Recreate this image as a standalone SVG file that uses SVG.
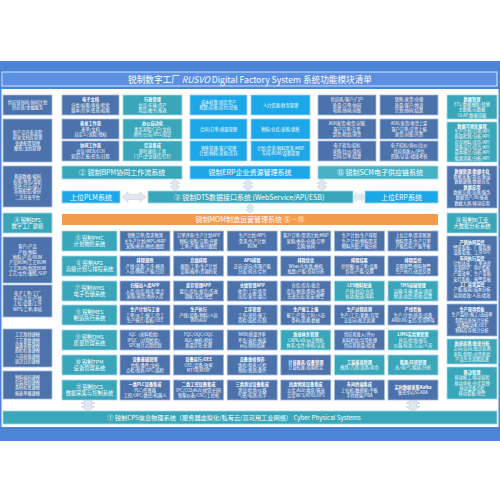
<svg xmlns="http://www.w3.org/2000/svg" width="500" height="500" viewBox="0 0 500 500">
<style>
text{font-family:"Noto Sans CJK SC","Noto Sans",sans-serif;fill:#fff;text-anchor:middle}
.f{font-size:4.2px}
.b{font-weight:bold}
.m{font-size:5.3px}
.bar{font-size:7px}
.s{fill:#4c72ab;stroke:#a3bbdf;stroke-width:0.8}
.t{fill:#3aa6ba;stroke:#a6dae3;stroke-width:0.8}
.t2{fill:#47b1c3;stroke:#a6dae3;stroke-width:0.8}
.c{fill:#1ea7e8;stroke:#93d4f3;stroke-width:0.8}
.o{fill:#f39a4d}
.ar{fill:#dfe7f0;stroke:#c3cfdd;stroke-width:0.6}
</style>
<defs>
<path id="va" d="M0,-6 L5,-1.5 L2.5,-1.5 L2.5,1.5 L5,1.5 L0,6 L-5,1.5 L-2.5,1.5 L-2.5,-1.5 L-5,-1.5 Z"/>
<path id="ha" d="M-12,0 L-6,-5 L-6,-2.5 L6,-2.5 L6,-5 L12,0 L6,5 L6,2.5 L-6,2.5 L-6,5 Z"/>
</defs>
<rect x="0" y="0" width="500" height="500" fill="#fff"/>
<rect x="0" y="61" width="500" height="380" fill="#4c84d7"/>
<rect x="1.5" y="89" width="497" height="338" fill="#fff"/>
<g id="title">
<rect x="2" y="72" width="495" height="14" fill="#5b8fe2" stroke="#d6e4fa" stroke-width="1"/>
<text x="250" y="82.5" style="font-size:9px" textLength="244" lengthAdjust="spacingAndGlyphs">锐制数字工厂 <tspan font-style="italic">RUSVO</tspan> Digital Factory System  系统功能模块清单</text>
</g>

<g id="connectors">
<use href="#va" class="ar" transform="translate(175,185)"/>
<use href="#va" class="ar" transform="translate(248,185)"/>
<use href="#va" class="ar" transform="translate(322,185)"/>
<use href="#ha" class="ar" transform="translate(134,197)"/>
<use href="#ha" class="ar" transform="translate(359,197) scale(0.45,0.9)"/>
<use href="#va" class="ar" transform="translate(250,208.5) scale(0.8)"/>
<use href="#va" class="ar" transform="translate(88,405) scale(1.4,1)"/>
<use href="#va" class="ar" transform="translate(413,405) scale(1.4,1)"/>
</g>

<!-- left column -->
<g id="L1"><rect class="s" x="3" y="95" width="49" height="20"/><text class="f"><tspan x="27.5" y="103.95">供应链协同/协同计划</tspan><tspan x="27.5" y="109.25">供应链/金融服务</tspan></text></g>
<g id="L2"><rect class="s" x="3" y="119" width="49" height="43"/><text class="f"><tspan x="27.5" y="134.15">新产品开发流程</tspan><tspan x="27.5" y="139.45">研发文档库管理</tspan><tspan x="27.5" y="144.75">变更配置管理</tspan><tspan x="27.5" y="150.05">图纸/文档管理</tspan></text></g>
<g id="L3"><rect class="s" x="3" y="166" width="49" height="41"/><text class="f"><tspan x="27.5" y="177.5">基础数据/编码</tspan><tspan x="27.5" y="182.8">权限/角色/组织</tspan><tspan x="27.5" y="188.1">消息/日志/接口</tspan><tspan x="27.5" y="193.4">系统配置/备份</tspan><tspan x="27.5" y="198.7">二次开发平台</tspan></text></g>
<g id="L4"><rect class="t" x="3" y="213" width="49" height="20"/><text class="m"><tspan x="27.5" y="221.65">④ 锐制DFS</tspan><tspan x="27.5" y="228.15">数字工厂建模</tspan></text></g>
<g id="L5"><rect class="s" x="3" y="237" width="49" height="46"/><text class="f"><tspan x="27.5" y="248.35">客户/产品</tspan><tspan x="27.5" y="253.65">产线/物料</tspan><tspan x="27.5" y="258.95">物料/产品/BOM</tspan><tspan x="27.5" y="264.25">产品BOM/工艺BOM</tspan><tspan x="27.5" y="269.55">工艺BOM/制造BOM</tspan><tspan x="27.5" y="274.85">工艺/文件/图纸/SOP</tspan></text></g>
<g id="L6"><rect class="s" x="3" y="285" width="49" height="32"/><text class="f"><tspan x="27.5" y="294.65">电子工单/工厂</tspan><tspan x="27.5" y="299.95">车间/工位/产线</tspan><tspan x="27.5" y="305.25">工位/设备/工序</tspan><tspan x="27.5" y="310.55">WPS/工单/审核</tspan></text></g>
<g id="L7"><rect class="s" x="3" y="329" width="49" height="38"/><text class="f"><tspan x="27.5" y="336.35">工艺路线建模</tspan><tspan x="27.5" y="341.65">工艺参数建模</tspan><tspan x="27.5" y="346.95">设备参数建模</tspan><tspan x="27.5" y="352.25">质检标准建模</tspan><tspan x="27.5" y="357.55">人员技能建模</tspan><tspan x="27.5" y="362.85">班次日历建模</tspan></text></g>
<g id="L8"><rect class="s" x="3" y="371" width="49" height="28"/><text class="f"><tspan x="27.5" y="378.65">物料编码建模</tspan><tspan x="27.5" y="383.95">包装规则建模</tspan><tspan x="27.5" y="389.25">条码标签建模</tspan><tspan x="27.5" y="394.55">报表单据建模</tspan></text></g>

<!-- BPM -->
<g id="B1"><rect class="s" x="62" y="95" width="57" height="20"/><text class="f"><tspan class="b" x="90.5" y="101.3">电子文档</tspan><tspan x="90.5" y="106.6">分类/权限/审批/检索</tspan><tspan x="90.5" y="111.9">版本/共享/签章/权限</tspan></text></g>
<g id="B2"><rect class="s" x="62" y="119" width="57" height="20"/><text class="f"><tspan class="b" x="90.5" y="125.3">表单工作流</tspan><tspan x="90.5" y="130.6">表单/文档</tspan><tspan x="90.5" y="135.9">自定义/流程/授权</tspan></text></g>
<g id="B3"><rect class="s" x="62" y="141" width="57" height="20"/><text class="f"><tspan class="b" x="90.5" y="147.3">协同工作流</tspan><tspan x="90.5" y="152.6">会议/WEB/ECN</tspan><tspan x="90.5" y="157.9">知识/汇报/任务/日程</tspan></text></g>
<g id="C1"><rect class="t" x="123" y="95" width="59" height="20"/><text class="f"><tspan class="b" x="152.5" y="101.3">行政管理</tspan><tspan x="152.5" y="106.6">会议/车辆/资产</tspan><tspan x="152.5" y="111.9">用品/图书/报表</tspan></text></g>
<g id="C2"><rect class="t" x="123" y="119" width="59" height="20"/><text class="f"><tspan class="b" x="152.5" y="125.3">办公自动化</tspan><tspan x="152.5" y="130.6">事务流程/门户/文档</tspan><tspan x="152.5" y="135.9">邮件/公告/RSS/知识</tspan></text></g>
<g id="C3"><rect class="t" x="123" y="141" width="59" height="20"/><text class="f"><tspan class="b" x="152.5" y="147.3">信息集成</tspan><tspan x="152.5" y="152.6">即时通讯/工具</tspan><tspan x="152.5" y="157.9">门户/企业微信/钉钉</tspan></text></g>
<g id="BPM"><rect class="t" x="62" y="166" width="120" height="13"/><text class="bar" x="122" y="175">② 锐制BPM协同工作流系统</text></g>

<!-- ERP -->
<g id="E1"><rect class="c" x="190" y="95" width="57" height="20"/><text class="f"><tspan x="218.5" y="103.95">成本核算/固定资产</tspan><tspan x="218.5" y="109.25">预算/应收/应付/总账</tspan></text></g>
<g id="E2"><rect class="c" x="190" y="119" width="57" height="20"/><text class="f"><tspan x="218.5" y="130.6">合同/订单/质量管理</tspan></text></g>
<g id="E3"><rect class="c" x="190" y="141" width="57" height="20"/><text class="f"><tspan x="218.5" y="149.95">销售管理/客户管理</tspan><tspan x="218.5" y="155.25">计划/物料/采购/库存</tspan></text></g>
<g id="E4"><rect class="c" x="251" y="95" width="59" height="20"/><text class="f"><tspan x="280.5" y="106.6">人力资源/财务管理</tspan></text></g>
<g id="E5"><rect class="c" x="251" y="119" width="59" height="20"/><text class="f"><tspan x="280.5" y="130.6">物料/仓库/采购/销售</tspan></text></g>
<g id="E6"><rect class="c" x="251" y="141" width="59" height="20"/><text class="f"><tspan x="280.5" y="149.95">计划/需求/物料需求/MRP</tspan><tspan x="280.5" y="155.25">车间/BOM/设备管理</tspan></text></g>
<g id="ERP"><rect class="c" x="190" y="166" width="120" height="13"/><text class="bar" x="250" y="175">锐制ERP企业资源管理系统</text></g>

<!-- SCM -->
<g id="S1"><rect class="s" x="318" y="95" width="58" height="20"/><text class="f"><tspan x="347" y="101.3">供应商/客户/门户</tspan><tspan x="347" y="106.6">质量/订单/协同</tspan><tspan x="347" y="111.9">电商/协同/对账</tspan></text></g>
<g id="S2"><rect class="s" x="318" y="119" width="58" height="20"/><text class="f"><tspan x="347" y="125.3">ASN发货/收货/对账</tspan><tspan x="347" y="130.6">客户订单/交货</tspan><tspan x="347" y="135.9">到货/检验/退货</tspan></text></g>
<g id="S3"><rect class="s" x="318" y="141" width="58" height="20"/><text class="f"><tspan x="347" y="147.3">电子商务/招标</tspan><tspan x="347" y="152.6">采购/比价/竞标</tspan><tspan x="347" y="157.9">合同/订单/结算</tspan></text></g>
<g id="S4"><rect class="s" x="380" y="95" width="58" height="20"/><text class="f"><tspan x="409" y="101.3">销售/发货/仓储</tspan><tspan x="409" y="106.6">质量/客户/物流</tspan><tspan x="409" y="111.9">计划/协同/结算</tspan></text></g>
<g id="S5"><rect class="s" x="380" y="119" width="58" height="20"/><text class="f"><tspan x="409" y="125.3">ASN/发货/收货上架</tspan><tspan x="409" y="130.6">客户订单/交货上报</tspan><tspan x="409" y="135.9">退货/对账/开票</tspan></text></g>
<g id="S6"><rect class="s" x="380" y="141" width="58" height="20"/><text class="f"><tspan x="409" y="147.3">电子招标/询价/比价</tspan><tspan x="409" y="152.6">供应商准入/评估</tspan><tspan x="409" y="157.9">资质/认证/绩效考核</tspan></text></g>
<g id="SCM"><rect class="t2" x="318" y="166" width="120" height="13"/><text class="bar" x="380" y="175">⑮ 锐制SCM电子供应链系统</text></g>

<!-- right column -->
<g id="R1"><rect class="t" x="447" y="95" width="50" height="24"/><text class="f"><tspan class="b" x="472" y="100.65">数据管理</tspan><tspan x="472" y="105.95">ETL/数据抽取/转换</tspan><tspan x="472" y="111.25">主数据/元数据</tspan><tspan x="472" y="116.55">OLAP/数据挖掘</tspan></text></g>
<g id="R2"><rect class="t" x="447" y="122" width="50" height="40"/><text class="f"><tspan class="b" x="472" y="127.7">数据可视化展现</tspan><tspan x="472" y="133">生产计划/订单/KPI</tspan><tspan x="472" y="138.3">质量检测/分析/KPI</tspan><tspan x="472" y="143.6">库存物料/库存/KPI</tspan><tspan x="472" y="148.9">设备运行/综合/KPI</tspan><tspan x="472" y="154.2">成本统计/分析/KPI</tspan><tspan x="472" y="159.5">能源消耗/分析/KPI</tspan></text></g>
<g id="R3"><rect class="s" x="447" y="166" width="50" height="42"/><text class="f"><tspan class="b" x="472" y="172.7">数据处理/数据中台</tspan><tspan x="472" y="178">数据采集/清洗/集成</tspan><tspan x="472" y="183.3">数据建模/数据仓库</tspan><tspan class="b" x="472" y="188.6">数据应用</tspan><tspan x="472" y="193.9">数据交换/治理/服务</tspan><tspan x="472" y="199.2">数据资产/BI/报表</tspan><tspan x="472" y="204.5">数据大屏/移动应用</tspan></text></g>
<g id="R4"><rect class="t" x="447" y="213" width="50" height="20"/><text class="m"><tspan x="472" y="221.65">⑭ 锐制BI工业</tspan><tspan x="472" y="228.15">大数据分析系统</tspan></text></g>
<g id="R5"><rect class="s" x="447" y="236" width="50" height="65"/><text class="f"><tspan class="b" x="472" y="243.6">产销协同监控</tspan><tspan x="472" y="248.9">经营看板、厂级看板</tspan><tspan x="472" y="254.2">设备看板、工序SPC</tspan><tspan class="b" x="472" y="259.5">车间执行监控</tspan><tspan x="472" y="264.8">计划达成、工单进度</tspan><tspan x="472" y="270.1">在制WIP、WIP看板</tspan><tspan x="472" y="275.4">产量效率、生产看板</tspan><tspan x="472" y="280.7">安灯看板、报警看板</tspan><tspan class="b" x="472" y="286">工厂运营监控</tspan><tspan x="472" y="291.3">产能/能耗/成本分析</tspan><tspan x="472" y="296.6">运营绩效/人员/绩效</tspan></text></g>
<g id="R6"><rect class="s" x="447" y="304" width="50" height="32"/><text class="f"><tspan class="b" x="472" y="311">生产现场看板</tspan><tspan x="472" y="316.3">生产监控/报工/达成率</tspan><tspan x="472" y="321.6">制程品质统计分析</tspan><tspan x="472" y="326.9">设备稼动率/OEE</tspan><tspan x="472" y="332.2">物料库存统计分析</tspan></text></g>
<g id="R7"><rect class="t" x="447" y="339" width="50" height="25"/><text class="f"><tspan class="b" x="472" y="345.15">质量追溯/质量分析</tspan><tspan x="472" y="350.45">正向/反向/批次追溯</tspan><tspan x="472" y="355.75">来料/制程/出货检验</tspan><tspan x="472" y="361.05">产品生命周期追溯</tspan></text></g>
<g id="R8"><rect class="t" x="447" y="367" width="50" height="32"/><text class="f"><tspan class="b" x="472" y="374">移动管理</tspan><tspan x="472" y="379.3">移动报工/移动巡检</tspan><tspan x="472" y="384.6">移动审批/仓库管理</tspan><tspan x="472" y="389.9">移动设备点检</tspan><tspan x="472" y="395.2">移动看板/预警</tspan></text></g>

<!-- middle bars -->
<g id="PLM"><rect class="c" x="62" y="191" width="58" height="12"/><text class="bar" x="91" y="199.5">上位PLM系统</text></g>
<g id="DTS"><rect class="t" x="148" y="191" width="205" height="12"/><text class="bar" x="249" y="199.5">③ 锐制DTS数据接口系统 (WebService/API/ESB)</text></g>
<g id="ERPTOP"><rect class="c" x="365" y="191" width="73" height="12"/><text class="bar" x="401.5" y="199.5">上位ERP系统</text></g>
<g id="MOM"><rect class="o" x="62" y="214" width="376" height="11"/><text class="bar" x="250" y="222">锐制MOM制造运营管理系统 ⑤ ~ ⑬</text></g>

<!-- MOM subsystems -->
<g id="PMC"><rect class="t" x="62" y="231" width="55" height="20"/><text class="m"><tspan x="89.5" y="239.65">⑤ 锐制PMC</tspan><tspan x="89.5" y="246.15">计划物控系统</tspan></text></g>
<g id="APS"><rect class="t" x="62" y="256" width="55" height="20"/><text class="m"><tspan x="89.5" y="264.65">⑥ 锐制APS</tspan><tspan x="89.5" y="271.15">高级计划与排程系统</tspan></text></g>
<g id="WMS"><rect class="t" x="62" y="281" width="55" height="20"/><text class="m"><tspan x="89.5" y="289.65">⑦ 锐制WMS</tspan><tspan x="89.5" y="296.15">电子仓储系统</tspan></text></g>
<g id="MES"><rect class="t" x="62" y="305" width="55" height="20"/><text class="m"><tspan x="89.5" y="313.65">⑧ 锐制MES</tspan><tspan x="89.5" y="320.15">制造执行系统</tspan></text></g>
<g id="QMS"><rect class="t" x="62" y="330" width="55" height="20"/><text class="m"><tspan x="89.5" y="338.65">⑨ 锐制QMS</tspan><tspan x="89.5" y="345.15">质量管理系统</tspan></text></g>
<g id="TPM"><rect class="t" x="62" y="355" width="55" height="20"/><text class="m"><tspan x="89.5" y="363.65">⑩ 锐制TPM</tspan><tspan x="89.5" y="370.15">设备管理系统</tspan></text></g>
<g id="DCS"><rect class="t" x="62" y="380" width="55" height="20"/><text class="m"><tspan x="89.5" y="388.65">⑪ 锐制DCS</tspan><tspan x="89.5" y="395.15">数据采集与控制系统</tspan></text></g>

<!-- row PMC y=231 -->
<g id="g11"><rect class="s" x="120" y="231" width="50" height="20"/><text class="f"><tspan x="145" y="237.3">销售订单/需求预测</tspan><tspan x="145" y="242.6">主生产计划/MPS/MRP</tspan><tspan x="145" y="247.9">采购/委外/物控/跟踪</tspan></text></g>
<g id="g12"><rect class="s" x="173.6" y="231" width="50" height="20"/><text class="f"><tspan x="198.6" y="237.3">订单评审/生产计划APP</tspan><tspan x="198.6" y="242.6">物料/采购/交期/齐套</tspan><tspan x="198.6" y="247.9">工单/产能/执行跟踪</tspan></text></g>
<g id="g13"><rect class="s" x="227.2" y="231" width="50" height="20"/><text class="f"><tspan x="252.2" y="237.3">生产计划/MPS</tspan><tspan x="252.2" y="242.6">需求/生产计划</tspan><tspan x="252.2" y="247.9">BOM</tspan></text></g>
<g id="g14"><rect class="s" x="280.8" y="231" width="50" height="20"/><text class="f"><tspan x="305.8" y="237.3">客户订单/需求计划/MRP</tspan><tspan x="305.8" y="242.6">采购/委外/仓储/订单</tspan><tspan x="305.8" y="247.9">交期/协同</tspan></text></g>
<g id="g15"><rect class="s" x="334.4" y="231" width="50" height="20"/><text class="f"><tspan x="359.4" y="237.3">生产计划/生产排程</tspan><tspan x="359.4" y="242.6">生产计划/物料需求</tspan><tspan x="359.4" y="247.9">物料齐套/产能分析</tspan></text></g>
<g id="g16"><rect class="s" x="388" y="231" width="50" height="20"/><text class="f"><tspan x="413" y="237.3">上位订单/需求预测</tspan><tspan x="413" y="242.6">物料需求/生产订单</tspan><tspan x="413" y="247.9">产能负荷/产能平衡</tspan></text></g>

<!-- row APS y=256 -->
<g id="g21"><rect class="s" x="120" y="256" width="50" height="20"/><text class="f"><tspan class="b" x="145" y="262.3">排程规则</tspan><tspan x="145" y="267.6">产线/设备/工序/模具</tspan><tspan x="145" y="272.9">人员/物料/产能/日历</tspan></text></g>
<g id="g22"><rect class="s" x="173.6" y="256" width="50" height="20"/><text class="f"><tspan class="b" x="198.6" y="262.3">高级排程</tspan><tspan x="198.6" y="267.6">规则/工单/生产计划</tspan><tspan x="198.6" y="272.9">交期/插单/资源约束</tspan></text></g>
<g id="g23"><rect class="s" x="227.2" y="256" width="50" height="20"/><text class="f"><tspan class="b" x="252.2" y="262.3">APS排程</tspan><tspan x="252.2" y="267.6">正向/逆向/有限产能</tspan><tspan x="252.2" y="272.9">分段/拆分/合并</tspan></text></g>
<g id="g24"><rect class="s" x="280.8" y="256" width="50" height="20"/><text class="f"><tspan class="b" x="305.8" y="262.3">排程优化</tspan><tspan x="305.8" y="267.6">What-if/仿真/模拟</tspan><tspan x="305.8" y="272.9">瓶颈/产能/负荷分析</tspan></text></g>
<g id="g25"><rect class="s" x="334.4" y="256" width="50" height="20"/><text class="f"><tspan class="b" x="359.4" y="262.3">排程结果</tspan><tspan x="359.4" y="267.6">甘特图/派工单/设备</tspan><tspan x="359.4" y="272.9">负荷/产能/交期</tspan></text></g>
<g id="g26"><rect class="s" x="388" y="256" width="50" height="20"/><text class="f"><tspan class="b" x="413" y="262.3">排程监控</tspan><tspan x="413" y="267.6">交期预警/物料预警</tspan><tspan x="413" y="272.9">生产执行/进度反馈</tspan></text></g>

<!-- row WMS y=281 -->
<g id="g31"><rect class="s" x="120" y="281" width="50" height="20"/><text class="f"><tspan class="b" x="145" y="287.3">扫描出入库APP</tspan><tspan x="145" y="292.6">入库/出库/移库/盘点</tspan><tspan x="145" y="297.9">采购/退货/委外入库</tspan></text></g>
<g id="g32"><rect class="s" x="173.6" y="281" width="50" height="20"/><text class="f"><tspan class="b" x="198.6" y="287.3">库存管理APP</tspan><tspan x="198.6" y="292.6">盘点/库位/批次/先进</tspan><tspan x="198.6" y="297.9">调拨/冻结/预警</tspan></text></g>
<g id="g33"><rect class="s" x="227.2" y="281" width="50" height="20"/><text class="f"><tspan class="b" x="252.2" y="287.3">仓储管理APP</tspan><tspan x="252.2" y="292.6">收货/上架/拣货</tspan><tspan x="252.2" y="297.9">出库/发货/盘点</tspan></text></g>
<g id="g34"><rect class="s" x="280.8" y="281" width="50" height="20"/><text class="f"><tspan x="305.8" y="287.3">仓库/库存/批次</tspan><tspan x="305.8" y="292.6">库位/物流/条码/标签</tspan><tspan x="305.8" y="297.9">先进先出/呆滞/预警</tspan></text></g>
<g id="g35"><rect class="t" x="334.4" y="281" width="50" height="20"/><text class="f"><tspan class="b" x="359.4" y="287.3">LES物料配送</tspan><tspan x="359.4" y="292.6">产线/线边/仓库</tspan><tspan x="359.4" y="297.9">拉动/配送/叫料</tspan></text></g>
<g id="g36"><rect class="t" x="388" y="281" width="50" height="20"/><text class="f"><tspan class="b" x="413" y="287.3">TMS运输管理</tspan><tspan x="413" y="292.6">运输/车辆/承运/调度</tspan><tspan x="413" y="297.9">物流/追踪/签收/结算</tspan></text></g>

<!-- row MES y=305 -->
<g id="g41"><rect class="s" x="120" y="305" width="50" height="20"/><text class="f"><tspan class="b" x="145" y="311.3">生产计划与工单</tspan><tspan x="145" y="316.6">工单/派工/报工/完工</tspan><tspan x="145" y="321.9">生产统计/看板/OEE</tspan></text></g>
<g id="g42"><rect class="s" x="173.6" y="305" width="50" height="20"/><text class="f"><tspan class="b" x="198.6" y="311.3">生产执行</tspan><tspan x="198.6" y="316.6">产线/设备/物料/人员</tspan><tspan x="198.6" y="321.9">WIP/AGV</tspan></text></g>
<g id="g43"><rect class="s" x="227.2" y="305" width="50" height="20"/><text class="f"><tspan class="b" x="252.2" y="311.3">工序管理</tspan><tspan x="252.2" y="316.6">工序/流转/报工</tspan><tspan x="252.2" y="321.9">首检/巡检/在制</tspan></text></g>
<g id="g44"><rect class="s" x="280.8" y="305" width="50" height="20"/><text class="f"><tspan class="b" x="305.8" y="311.3">生产报工上报</tspan><tspan x="305.8" y="316.6">报工/产量/工时/人员</tspan><tspan x="305.8" y="321.9">条码/追溯/数据</tspan></text></g>
<g id="g45"><rect class="s" x="334.4" y="305" width="50" height="20"/><text class="f"><tspan class="b" x="359.4" y="311.3">生产过程追溯</tspan><tspan x="359.4" y="316.6">生产/工艺/参数/异常</tspan><tspan x="359.4" y="321.9">正反向/批次追溯</tspan></text></g>
<g id="g46"><rect class="s" x="388" y="305" width="50" height="20"/><text class="f"><tspan class="b" x="413" y="311.3">产线看板</tspan><tspan x="413" y="316.6">生产/计划/质量/设备</tspan><tspan x="413" y="321.9">ANDON/安灯/异常呼叫</tspan></text></g>

<!-- row QMS y=330 -->
<g id="g51"><rect class="s" x="120" y="330" width="50" height="20"/><text class="f"><tspan x="145" y="336.3">IQC（来料检验）</tspan><tspan x="145" y="341.6">IPQC（过程检验）</tspan><tspan x="145" y="346.9">SPC统计过程控制</tspan></text></g>
<g id="g52"><rect class="s" x="173.6" y="330" width="50" height="20"/><text class="f"><tspan x="198.6" y="336.3">FQC/OQC/OQC</tspan><tspan x="198.6" y="341.6">AQL/抽样/检验</tspan><tspan x="198.6" y="346.9">质量异常/处理</tspan></text></g>
<g id="g53"><rect class="s" x="227.2" y="330" width="50" height="20"/><text class="f"><tspan x="252.2" y="336.3">MRB/质量评审</tspan><tspan x="252.2" y="341.6">不良/返修/报废</tspan><tspan x="252.2" y="346.9">纠正预防措施</tspan></text></g>
<g id="g54"><rect class="t" x="280.8" y="330" width="50" height="20"/><text class="f"><tspan class="b" x="305.8" y="336.3">质量体系管理</tspan><tspan x="305.8" y="341.6">CAPA/8D/纠正预防</tspan><tspan x="305.8" y="346.9">体系/文件/审核/认证</tspan></text></g>
<g id="g55"><rect class="s" x="334.4" y="330" width="50" height="20"/><text class="f"><tspan x="359.4" y="336.3">供应商准入/评价</tspan><tspan x="359.4" y="341.6">来料检验/异常处理</tspan><tspan x="359.4" y="346.9">供应商质量/绩效</tspan></text></g>
<g id="g56"><rect class="t" x="388" y="330" width="50" height="20"/><text class="f"><tspan class="b" x="413" y="336.3">LIMS实验室管理</tspan><tspan x="413" y="341.6">样品/检测/报告</tspan><tspan x="413" y="346.9">仪器/标准/方法/人员</tspan></text></g>

<!-- row TPM y=355 -->
<g id="g61"><rect class="s" x="120" y="355" width="50" height="20"/><text class="f"><tspan class="b" x="145" y="361.3">设备基础管理</tspan><tspan x="145" y="366.6">台账/备件/文档</tspan><tspan x="145" y="371.9">点检/保养/SPC/巡检</tspan></text></g>
<g id="g62"><rect class="s" x="173.6" y="355" width="50" height="20"/><text class="f"><tspan class="b" x="198.6" y="361.3">设备运行/OEE</tspan><tspan x="198.6" y="366.6">OEE/设备/效率</tspan><tspan x="198.6" y="371.9">MTTR/MTBF</tspan></text></g>
<g id="g63"><rect class="s" x="227.2" y="355" width="50" height="20"/><text class="f"><tspan class="b" x="252.2" y="361.3">设备维修保养</tspan><tspan x="252.2" y="366.6">维修/保养/点检</tspan><tspan x="252.2" y="371.9">预防/预测/备件</tspan></text></g>
<g id="g64"><rect class="s" x="280.8" y="355" width="50" height="20"/><text class="f"><tspan class="b" x="305.8" y="363.95">计量器具/设备管理</tspan><tspan x="305.8" y="369.25">计量校准/周期检定</tspan></text></g>
<g id="g65"><rect class="t" x="334.4" y="355" width="50" height="20"/><text class="f"><tspan class="b" x="359.4" y="363.95">工装模具管理</tspan><tspan x="359.4" y="369.25">模具/刀具/治具/寿命</tspan></text></g>
<g id="g66"><rect class="t" x="388" y="355" width="50" height="20"/><text class="f"><tspan class="b" x="413" y="363.95">能源/环境管理</tspan><tspan x="413" y="369.25">水/电/气/能耗/分析</tspan></text></g>

<!-- row DCS y=380 -->
<g id="g71"><rect class="s" x="120" y="380" width="50" height="20"/><text class="f"><tspan class="b" x="145" y="386.3">一类PLC设备集成</tspan><tspan x="145" y="391.6">PLC/传感器</tspan><tspan x="145" y="396.9">工控/OPC/数控/机器人</tspan></text></g>
<g id="g72"><rect class="s" x="173.6" y="380" width="50" height="20"/><text class="f"><tspan class="b" x="198.6" y="386.3">二类工控设备集成</tspan><tspan x="198.6" y="391.6">IPC/CCD/AGV/视觉/扫码</tspan><tspan x="198.6" y="396.9">智能仪表/CNC/工控机</tspan></text></g>
<g id="g73"><rect class="s" x="227.2" y="380" width="50" height="20"/><text class="f"><tspan class="b" x="252.2" y="386.3">三类测试设备集成</tspan><tspan x="252.2" y="391.6">测试/检测/仪器</tspan><tspan x="252.2" y="396.9">气密/电测/光学</tspan></text></g>
<g id="g74"><rect class="s" x="280.8" y="380" width="50" height="20"/><text class="f"><tspan class="b" x="305.8" y="386.3">四类物流设备集成</tspan><tspan x="305.8" y="391.6">立库/AGV/堆垛/输送</tspan><tspan x="305.8" y="396.9">立库WCS/RFID/UPS</tspan></text></g>
<g id="g75"><rect class="s" x="334.4" y="380" width="50" height="20"/><text class="f"><tspan class="b" x="359.4" y="386.3">车间终端集成</tspan><tspan x="359.4" y="391.6">上位机/触摸屏/平板</tspan><tspan x="359.4" y="396.9">手持终端/PDA</tspan></text></g>
<g id="g76"><rect class="s" x="388" y="380" width="50" height="20"/><text class="f"><tspan class="b" x="413" y="388.95">实时数据采集Kafka</tspan><tspan x="413" y="394.25">集控中心SCADA</tspan></text></g>

<g id="CPS"><rect class="t" x="3" y="411" width="494" height="13"/><text x="234" y="420" style="font-size:6.2px">① 锐制CPS信息物理系统（服务器虚拟化/私有云/高可用工业网络） Cyber Physical Systems</text></g>
</svg>
